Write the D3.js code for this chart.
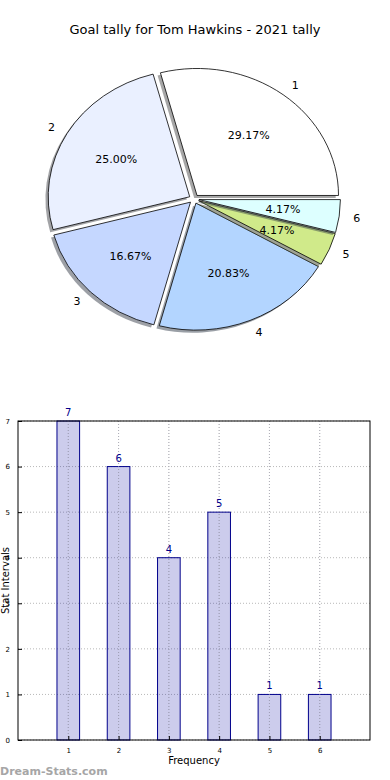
<!DOCTYPE html>
<html>
  <head>
    <meta charset="utf-8">
    <script src="https://d3js.org/d3.v7.min.js"></script>
    <style>
      body { margin: 0; background: #fff; }
      text { font-family: "DejaVu Sans", sans-serif; }
    </style>
  </head>
<body>
  <script type="text/javascript">

  // chart data
  var title = "Goal tally for Tom Hawkins - 2021 tally";
  var categories = ["1", "2", "3", "4", "5", "6"];
  var counts = [7, 6, 4, 5, 1, 1];
  var pieColors = ["#ffffff", "#eaf0ff", "#c5d7ff", "#b3d5ff", "#d0ea8a", "#ddffff"];
  var xTicks = [1, 2, 3, 4, 5, 6];
  var yTicks = [0, 1, 2, 3, 4, 5, 6, 7];

  var W = 390, H = 780;
  var svg = d3.select("body").append("svg")
      .attr("width", W)
      .attr("height", H);

  // ---- title
  svg.append("text")
      .attr("x", 195)
      .attr("y", 34)
      .attr("text-anchor", "middle")
      .attr("font-size", 13)
      .text(title);

  // ---- pie (matplotlib style: ccw from 3 o'clock, elliptical, exploded, shadowed)
  var cx = 194, cy = 199, rx = 141.5, ry = 127, explode = 0.035;
  var total = d3.sum(counts);

  var pie = d3.pie().sort(null)
      .startAngle(Math.PI / 2)
      .endAngle(Math.PI / 2 - 2 * Math.PI);
  var arc = d3.arc().innerRadius(0).outerRadius(100);
  var arcs = pie(counts);

  var pieG = svg.append("g").attr("transform", "translate(" + cx + "," + cy + ")");

  arcs.forEach(function(d, i) {
    var mid = (d.startAngle + d.endAngle) / 2;
    var ox = Math.sin(mid) * explode * rx,
        oy = -Math.cos(mid) * explode * ry;
    var c = d3.rgb(pieColors[i]);
    var shadowCol = d3.rgb(c.r * 0.3, c.g * 0.3, c.b * 0.3);

    // shadow first, then the wedge
    pieG.append("path")
        .attr("d", arc(d))
        .attr("transform", "translate(" + (ox - 2.8) + "," + (oy + 2.6) + ") scale(" + rx / 100 + "," + ry / 100 + ")")
        .attr("fill", shadowCol)
        .attr("fill-opacity", 0.5);

    pieG.append("path")
        .attr("d", arc(d))
        .attr("transform", "translate(" + ox + "," + oy + ") scale(" + rx / 100 + "," + ry / 100 + ")")
        .attr("fill", pieColors[i])
        .attr("stroke", "#000")
        .attr("stroke-width", 0.8)
        .attr("vector-effect", "non-scaling-stroke");
  });

  // labels and percentages
  arcs.forEach(function(d, i) {
    var mid = (d.startAngle + d.endAngle) / 2;
    var sx = Math.sin(mid), sy = -Math.cos(mid);
    var ox = sx * explode * rx, oy = sy * explode * ry;

    pieG.append("text")
        .attr("x", ox + 1.1 * rx * sx)
        .attr("y", oy + 1.1 * ry * sy)
        .attr("dy", "0.35em")
        .attr("text-anchor", sx > 0 ? "start" : "end")
        .attr("font-size", 11)
        .text(categories[i]);

    pieG.append("text")
        .attr("x", ox + 0.6 * rx * sx)
        .attr("y", oy + 0.6 * ry * sy)
        .attr("dy", "0.35em")
        .attr("text-anchor", "middle")
        .attr("font-size", 11)
        .text((counts[i] / total * 100).toFixed(2) + "%");
  });

  // ---- bar chart
  var plotL = 18, plotR = 370, plotT = 421, plotB = 740;
  var x = d3.scaleLinear().domain([0, 7]).range([plotL, plotR]);
  var y = d3.scaleLinear().domain([0, 7]).range([plotB, plotT]);

  var barG = svg.append("g");

  // grid
  barG.selectAll(".vgrid").data(xTicks).enter().append("line")
      .attr("x1", function(d) { return x(d); })
      .attr("x2", function(d) { return x(d); })
      .attr("y1", plotT).attr("y2", plotB)
      .attr("stroke", "#b8b8b8")
      .attr("stroke-width", 1)
      .attr("stroke-dasharray", "1,2");

  barG.selectAll(".hgrid").data(yTicks).enter().append("line")
      .attr("x1", plotL).attr("x2", plotR)
      .attr("y1", function(d) { return y(d); })
      .attr("y2", function(d) { return y(d); })
      .attr("stroke", "#b8b8b8")
      .attr("stroke-width", 1)
      .attr("stroke-dasharray", "1,2");

  // bars
  var bw = 0.45;
  barG.selectAll(".bar").data(counts).enter().append("rect")
      .attr("x", function(d, i) { return x(xTicks[i] - bw / 2); })
      .attr("y", function(d) { return y(d); })
      .attr("width", x(bw) - x(0))
      .attr("height", function(d) { return y(0) - y(d); })
      .attr("fill", "#0000a0")
      .attr("fill-opacity", 0.2)
      .attr("stroke", "#00008b")
      .attr("stroke-width", 1);

  // grid shows through the bars
  barG.selectAll(".vgrid2").data(xTicks).enter().append("line")
      .attr("x1", function(d) { return x(d); })
      .attr("x2", function(d) { return x(d); })
      .attr("y1", plotT).attr("y2", plotB)
      .attr("stroke", "#a8a8b8")
      .attr("stroke-opacity", 0.6)
      .attr("stroke-dasharray", "1,2");

  // value labels
  barG.selectAll(".val").data(counts).enter().append("text")
      .attr("x", function(d, i) { return x(xTicks[i]); })
      .attr("y", function(d) { return y(d) - 5; })
      .attr("text-anchor", "middle")
      .attr("font-size", 10)
      .attr("fill", "#00008b")
      .text(function(d) { return d; });

  // frame
  barG.append("rect")
      .attr("x", plotL).attr("y", plotT)
      .attr("width", plotR - plotL).attr("height", plotB - plotT)
      .attr("fill", "none")
      .attr("stroke", "#000")
      .attr("stroke-width", 1);

  // axes (inward ticks, matplotlib style)
  var xAxis = d3.axisBottom(x).tickValues(xTicks).tickFormat(d3.format("d")).tickSize(-4).tickPadding(8);
  var yAxis = d3.axisLeft(y).tickValues(yTicks).tickFormat(d3.format("d")).tickSize(-4).tickPadding(8);

  var gx = barG.append("g").attr("transform", "translate(0," + plotB + ")").call(xAxis);
  var gy = barG.append("g").attr("transform", "translate(" + plotL + ",0)").call(yAxis);
  [gx, gy].forEach(function(g) {
    g.select(".domain").remove();
    g.selectAll("text").attr("font-size", 7).attr("font-family", "DejaVu Sans").attr("fill", "#000");
    g.selectAll("line").attr("stroke", "#000");
  });

  // axis titles
  svg.append("text")
      .attr("x", 194)
      .attr("y", 764)
      .attr("text-anchor", "middle")
      .attr("font-size", 10)
      .text("Frequency");

  svg.append("text")
      .attr("transform", "translate(8.5," + (plotT + plotB) / 2 + ") rotate(-90)")
      .attr("text-anchor", "middle")
      .attr("font-size", 10)
      .text("Stat Intervals");

  // watermark
  svg.append("text")
      .attr("x", 0)
      .attr("y", 775)
      .attr("font-size", 11)
      .attr("font-weight", "bold")
      .attr("fill", "#a6a6a6")
      .text("Dream-Stats.com");

  </script>
</body>
</html>
